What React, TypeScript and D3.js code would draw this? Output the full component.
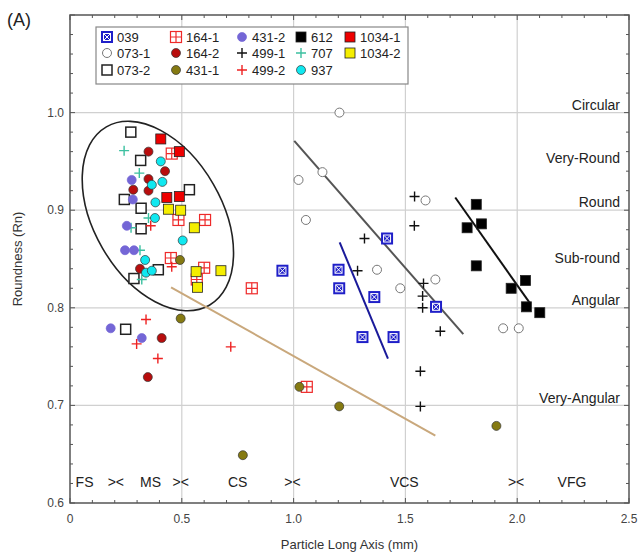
import React, { useEffect } from 'react';
import * as d3 from 'd3';

type Pt = [number, number];

// series values [long axis (mm), roundness]
const s039: Pt[] = [[0.95, 0.838], [1.201, 0.839], [1.204, 0.82], [1.361, 0.811], [1.418, 0.871], [1.308, 0.77], [1.447, 0.77], [1.637, 0.801]];
const s073_1: Pt[] = [[1.205, 1.0], [1.129, 0.939], [1.022, 0.931], [1.055, 0.89], [1.59, 0.91], [1.373, 0.839], [1.477, 0.82], [1.634, 0.829], [1.937, 0.779], [2.007, 0.779]];
const s073_2: Pt[] = [[0.272, 0.98], [0.316, 0.951], [0.534, 0.921], [0.243, 0.911], [0.318, 0.902], [0.318, 0.881], [0.395, 0.839], [0.286, 0.83], [0.249, 0.778]];
const s164_1: Pt[] = [[0.455, 0.958], [0.485, 0.89], [0.604, 0.89], [0.451, 0.851], [0.6, 0.841], [0.567, 0.829], [0.813, 0.82], [1.059, 0.719]];
const s164_2: Pt[] = [[0.351, 0.96], [0.425, 0.94], [0.351, 0.932], [0.283, 0.921], [0.351, 0.92], [0.313, 0.84], [0.41, 0.769], [0.348, 0.729]];
const s431_1: Pt[] = [[0.492, 0.849], [0.495, 0.789], [0.773, 0.649], [1.026, 0.719], [1.204, 0.699], [1.907, 0.679]];
const s431_2: Pt[] = [[0.276, 0.931], [0.281, 0.911], [0.254, 0.884], [0.246, 0.859], [0.286, 0.859], [0.182, 0.779], [0.321, 0.769]];
const s499_1: Pt[] = [[1.541, 0.914], [1.54, 0.884], [1.317, 0.871], [1.286, 0.838], [1.581, 0.825], [1.577, 0.812], [1.577, 0.8], [1.656, 0.776], [1.567, 0.735], [1.567, 0.699]];
const s499_2: Pt[] = [[0.361, 0.884], [0.455, 0.842], [0.34, 0.788], [0.298, 0.763], [0.719, 0.76], [0.393, 0.748]];
const s612: Pt[] = [[1.817, 0.906], [1.776, 0.882], [1.84, 0.886], [1.817, 0.843], [2.037, 0.828], [1.973, 0.82], [2.041, 0.801], [2.101, 0.795]];
const s707: Pt[] = [[0.242, 0.961], [0.31, 0.938], [0.351, 0.892], [0.273, 0.882], [0.313, 0.859], [0.321, 0.829]];
const s937: Pt[] = [[0.406, 0.95], [0.413, 0.929], [0.366, 0.926], [0.382, 0.908], [0.38, 0.892], [0.504, 0.869], [0.336, 0.849], [0.34, 0.836], [0.366, 0.838]];
const s1034_1: Pt[] = [[0.406, 0.973], [0.489, 0.96], [0.433, 0.913], [0.489, 0.914]];
const s1034_2: Pt[] = [[0.44, 0.901], [0.495, 0.9], [0.556, 0.882], [0.564, 0.837], [0.675, 0.838], [0.57, 0.821]];

// trend lines
const tanLine: Pt[] = [[0.452, 0.821], [1.634, 0.669]];
const grayLine: Pt[] = [[1.003, 0.971], [1.759, 0.773]];
const blueLine: Pt[] = [[1.206, 0.867], [1.422, 0.748]];
const blackLine: Pt[] = [[1.723, 0.913], [2.056, 0.805]];

const roundClasses = [
  { label: 'Circular', y: 1.008 },
  { label: 'Very-Round', y: 0.953 },
  { label: 'Round', y: 0.908 },
  { label: 'Sub-round', y: 0.851 },
  { label: 'Angular', y: 0.808 },
  { label: 'Very-Angular', y: 0.708 },
];
const sizeClasses = [
  { label: 'FS', x: 0.065 },
  { label: '><', x: 0.205 },
  { label: 'MS', x: 0.36 },
  { label: '><', x: 0.495 },
  { label: 'CS', x: 0.75 },
  { label: '><', x: 0.995 },
  { label: 'VCS', x: 1.495 },
  { label: '><', x: 1.995 },
  { label: 'VFG', x: 2.245 },
];

const xTicks = [0, 0.5, 1.0, 1.5, 2.0, 2.5];
const yTicks = [0.6, 0.7, 0.8, 0.9, 1.0];

type Kind = 'xsq' | 'ocirc' | 'osq' | 'gridsq' | 'circ' | 'plus' | 'sq';
interface Series { name: string; data: Pt[]; kind: Kind; color: string; }

const series: Series[] = [
  { name: '039', data: s039, kind: 'xsq', color: '#1f1fc8' },
  { name: '073-1', data: s073_1, kind: 'ocirc', color: '#777' },
  { name: '073-2', data: s073_2, kind: 'osq', color: '#222' },
  { name: '164-1', data: s164_1, kind: 'gridsq', color: '#ee2a2a' },
  { name: '164-2', data: s164_2, kind: 'circ', color: '#b80d0d' },
  { name: '431-1', data: s431_1, kind: 'circ', color: '#857a12' },
  { name: '431-2', data: s431_2, kind: 'circ', color: '#7466d6' },
  { name: '499-1', data: s499_1, kind: 'plus', color: '#111' },
  { name: '499-2', data: s499_2, kind: 'plus', color: '#ee2222' },
  { name: '612', data: s612, kind: 'sq', color: '#000' },
  { name: '707', data: s707, kind: 'plus', color: '#3cc0a0' },
  { name: '937', data: s937, kind: 'circ', color: '#10e8f0' },
  { name: '1034-1', data: s1034_1, kind: 'sq', color: '#ee0000' },
  { name: '1034-2', data: s1034_2, kind: 'sq', color: '#f5ee00' },
];

const drawOrder = ['073-2', '164-1', '707', '431-2', '164-2', '937', '1034-1', '1034-2', '499-2', '431-1', '073-1', '499-1', '039', '612'];

const W = 639, H = 555;
const M = { left: 70, right: 629, top: 15, bottom: 503 };

function Marker({ s, x, y }: { s: Series; x: number; y: number }) {
  const c = s.color;
  switch (s.kind) {
    case 'xsq':
      return (
        <g transform={`translate(${x},${y})`}>
          <rect x={-6} y={-6} width={12} height={12} fill={c} />
          <rect x={-3.5} y={-3.5} width={7} height={7} fill="none" stroke="#fff" strokeWidth={1} />
          <path d="M-3,-3L3,3M3,-3L-3,3" stroke="#fff" strokeWidth={1} />
        </g>
      );
    case 'ocirc':
      return <circle cx={x} cy={y} r={4.5} fill="#fff" stroke={c} strokeWidth={1} />;
    case 'osq':
      return <rect x={x - 5} y={y - 5} width={10} height={10} fill="#fff" stroke={c} strokeWidth={1.5} />;
    case 'gridsq':
      return (
        <g transform={`translate(${x},${y})`}>
          <rect x={-5.5} y={-5.5} width={11} height={11} fill="#fff" stroke={c} strokeWidth={1.2} />
          <path d="M0,-5.5V5.5M-5.5,0H5.5" stroke={c} strokeWidth={1.2} />
        </g>
      );
    case 'circ':
      return <circle cx={x} cy={y} r={4.5} fill={c} stroke={s.name === '431-2' ? c : '#333'} strokeWidth={0.7} />;
    case 'plus':
      return <path d={`M${x - 5},${y}H${x + 5}M${x},${y - 5}V${y + 5}`} stroke={c} strokeWidth={1.4} />;
    case 'sq':
      return <rect x={x - 5} y={y - 5} width={10} height={10} fill={c} stroke="#222" strokeWidth={0.8} />;
  }
  return null;
}

export default function App() {
  useEffect(() => {
    document.body.style.margin = '0';
  }, []);

  const x = d3.scaleLinear().domain([0, 2.5]).range([M.left, M.right]);
  const y = d3.scaleLinear().domain([0.6, 1.1]).range([M.bottom, M.top]);
  const xMinor = d3.range(0, 2.5001, 0.1);
  const yMinor = d3.range(0.6, 1.1001, 0.02);
  const line = d3.line<Pt>().x(d => x(d[0])).y(d => y(d[1]));
  const byName = new Map(series.map(s => [s.name, s]));
  const font = 'Arial, "Liberation Sans", Helvetica, sans-serif';

  // legend grid: columns of 3 rows
  const legCols = [107, 176, 242, 301, 350];
  const legRows = [37, 53, 70];

  return (
    <svg width={W} height={H} style={{ display: 'block', fontFamily: font }}>
      <rect width={W} height={H} fill="#fff" />
      {/* grid */}
      {xTicks.slice(1, -1).map(t => (
        <line key={'gx' + t} x1={x(t)} x2={x(t)} y1={M.top} y2={M.bottom} stroke="#d0d0d0" strokeWidth={1.2} />
      ))}
      {yTicks.slice(1).map(t => (
        <line key={'gy' + t} x1={M.left} x2={M.right} y1={y(t)} y2={y(t)} stroke="#d0d0d0" strokeWidth={1.2} />
      ))}

      {/* ticks (inward, all four sides) */}
      {xMinor.map((t, i) => {
        const len = i % 5 === 0 ? 5 : 3;
        return (
          <g key={'xt' + i} stroke="#555" strokeWidth={1}>
            <line x1={x(t)} x2={x(t)} y1={M.bottom} y2={M.bottom - len} />
            <line x1={x(t)} x2={x(t)} y1={M.top} y2={M.top + len} />
          </g>
        );
      })}
      {yMinor.map((t, i) => {
        const len = i % 5 === 0 ? 5 : 3;
        return (
          <g key={'yt' + i} stroke="#555" strokeWidth={1}>
            <line x1={M.left} x2={M.left + len} y1={y(t)} y2={y(t)} />
            <line x1={M.right} x2={M.right - len} y1={y(t)} y2={y(t)} />
          </g>
        );
      })}
      <rect x={M.left} y={M.top} width={M.right - M.left} height={M.bottom - M.top} fill="none" stroke="#555" strokeWidth={1.5} />

      {/* tick labels */}
      {xTicks.map(t => (
        <text key={'xl' + t} x={x(t)} y={M.bottom + 20} textAnchor="middle" fontSize={12} fill="#444">
          {t === 0 ? '0' : t.toFixed(1)}
        </text>
      ))}
      {yTicks.map(t => (
        <text key={'yl' + t} x={M.left - 6} y={y(t) + 4} textAnchor="end" fontSize={12} fill="#444">
          {t.toFixed(1)}
        </text>
      ))}
      <text x={(M.left + M.right) / 2} y={549} textAnchor="middle" fontSize={13} fill="#333">Particle Long Axis (mm)</text>
      <text transform={`translate(22,${(M.top + M.bottom) / 2}) rotate(-90)`} textAnchor="middle" fontSize={13} fill="#333">Roundness (Rn)</text>
      <text x={7} y={26} fontSize={18} fill="#222">(A)</text>

      {/* class labels */}
      {roundClasses.map(r => (
        <text key={r.label} x={620} y={y(r.y) + 5} textAnchor="end" fontSize={14} fill="#222">{r.label}</text>
      ))}
      {sizeClasses.map((c, i) => (
        <text key={'sc' + i} x={x(c.x)} y={y(0.622) + 5} textAnchor="middle" fontSize={14} fill="#222">{c.label}</text>
      ))}

      {/* ellipse */}
      <ellipse
        cx={0} cy={0} rx={103} ry={64}
        transform={`translate(${x(0.393)},${y(0.894)}) rotate(60)`}
        fill="none" stroke="#222" strokeWidth={1.6}
      />

      {/* trend lines */}
      <path d={line(tanLine) || ''} stroke="#c9a87c" strokeWidth={2} fill="none" />
      <path d={line(grayLine) || ''} stroke="#555" strokeWidth={2} fill="none" />
      <path d={line(blueLine) || ''} stroke="#1a1a9a" strokeWidth={2} fill="none" />
      <path d={line(blackLine) || ''} stroke="#111" strokeWidth={2} fill="none" />

      {/* points */}
      {drawOrder.map(n => {
        const s = byName.get(n)!;
        return (
          <g key={'s' + n}>
            {s.data.map((d, i) => <Marker key={i} s={s} x={x(d[0])} y={y(d[1])} />)}
          </g>
        );
      })}

      {/* legend */}
      <rect x={96} y={27} width={312} height={57} fill="#fff" stroke="#888" strokeWidth={1.2} />
      {series.map((s, i) => {
        const cx = legCols[Math.floor(i / 3)];
        const cy = legRows[i % 3];
        return (
          <g key={'lg' + s.name}>
            <Marker s={s} x={cx} y={cy} />
            <text x={cx + 10} y={cy + 5} fontSize={13} fill="#222">{s.name}</text>
          </g>
        );
      })}
    </svg>
  );
}
